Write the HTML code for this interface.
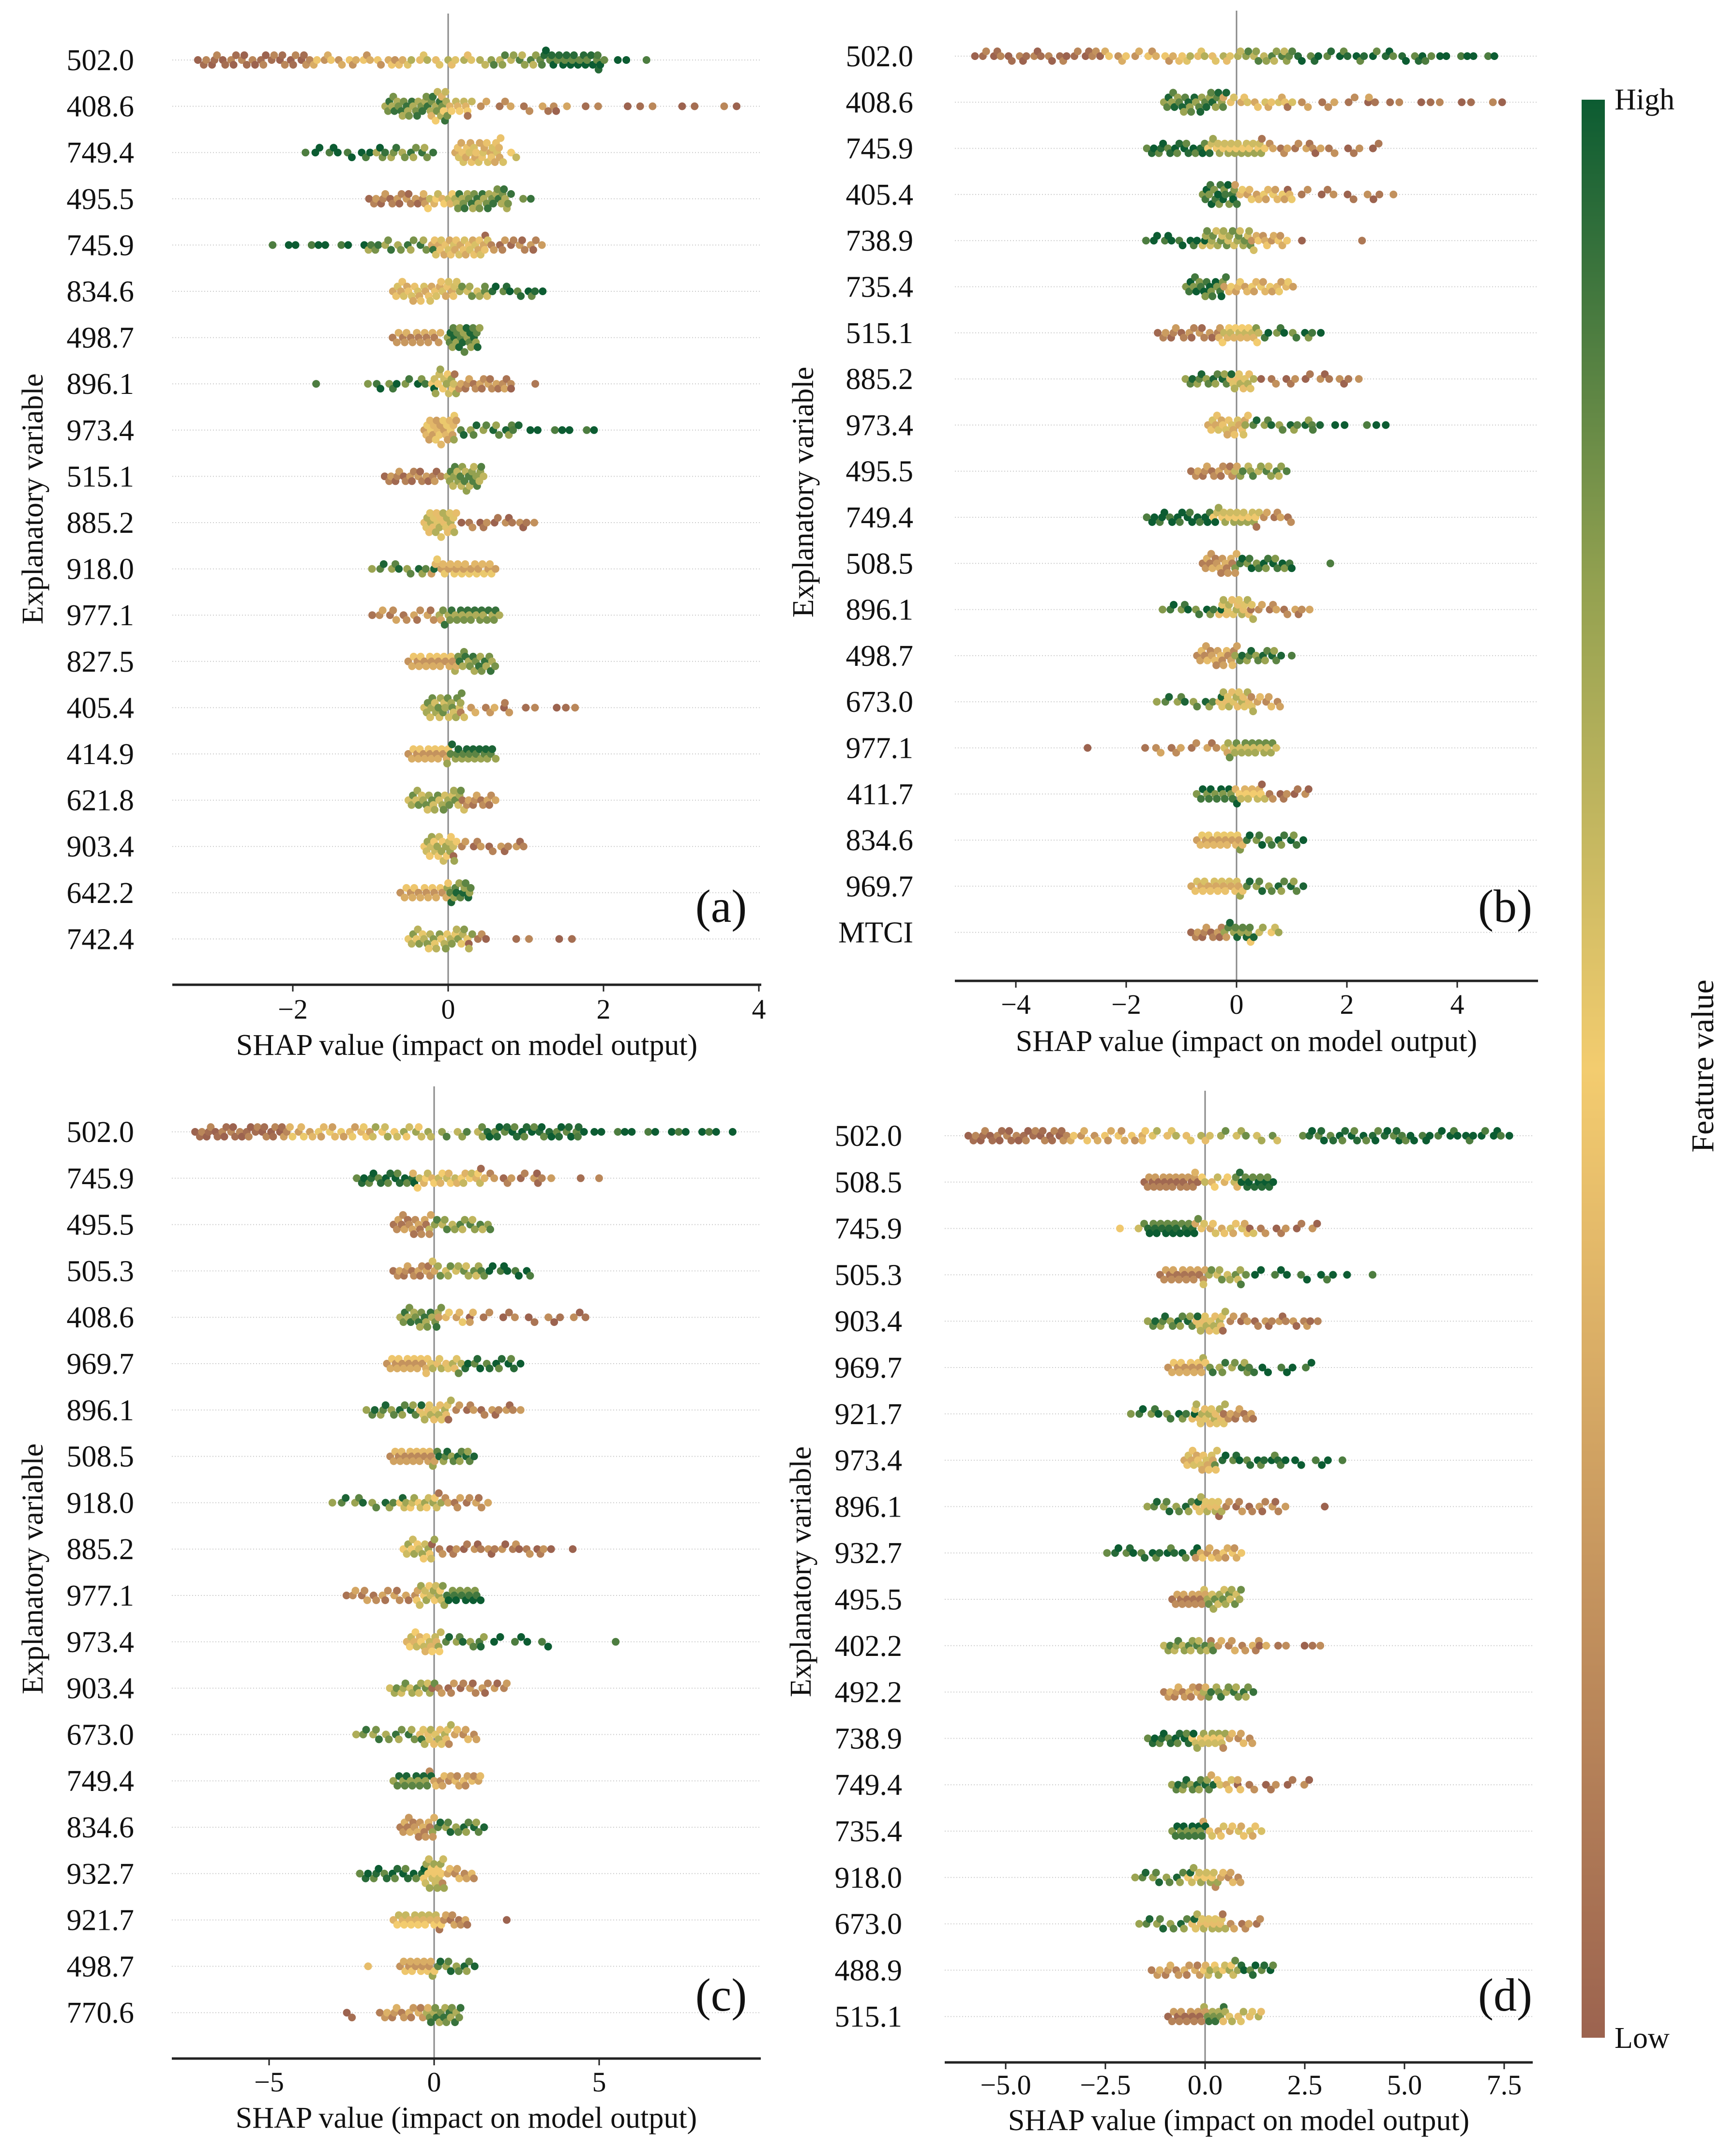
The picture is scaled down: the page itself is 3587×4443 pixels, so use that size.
<!DOCTYPE html>
<html><head><meta charset="utf-8"><style>
html,body{margin:0;padding:0;background:#fff}
svg{display:block}
text{font-family:"Liberation Serif",serif;fill:#111}
</style></head><body>
<svg id="fig" width="3587" height="4443" viewBox="0 0 3587 4443" xmlns="http://www.w3.org/2000/svg">
<defs>
<linearGradient id="cbg" x1="0" y1="0" x2="0" y2="1">
<stop offset="0" stop-color="#0c5c32"/>
<stop offset="0.25" stop-color="#93a150"/>
<stop offset="0.5" stop-color="#f3cc6f"/>
<stop offset="1" stop-color="#9c634f"/>
</linearGradient>
</defs>
<g id="panels"></g>
<rect x="3268" y="206" width="48" height="4005" fill="url(#cbg)"/>
<text x="3336" y="226" font-size="62">High</text>
<text x="3336" y="4232" font-size="62">Low</text>
<text transform="translate(3540,2203) rotate(-90)" text-anchor="middle" font-size="66">Feature value</text>
</svg>
<script>
// ---------- data ----------
const labelsA=["502.0","408.6","749.4","495.5","745.9","834.6","498.7","896.1","973.4","515.1","885.2","918.0","977.1","827.5","405.4","414.9","621.8","903.4","642.2","742.4"];
const segsA=[
[[-3.2,-1.8,30,0.05],[-1.8,-0.6,20,0.35],[-0.6,0.4,15,0.55],[0.5,1.2,15,0.75],[1.2,2.0,25,0.95],[2.0,2.5,4,1]],
[[-0.8,0.0,35,0.8],[-0.2,0.3,15,0.5],[0.3,1.5,12,0.2],[1.5,3.7,10,0.05]],
[[-1.8,-0.9,12,1],[-0.9,-0.2,15,0.8],[0.1,0.7,30,0.45],[0.7,0.9,3,0.5]],
[[-1.0,-0.3,18,0.15],[-0.3,0.1,12,0.5],[0.1,0.8,30,0.8],[0.8,1.1,3,0.8]],
[[-2.2,-1.0,10,1],[-1.0,-0.2,15,0.8],[-0.2,0.5,30,0.45],[0.5,1.2,15,0.15]],
[[-0.7,0.1,30,0.45],[0.1,0.5,10,0.7],[0.5,1.2,12,0.95]],
[[-0.7,-0.1,18,0.25],[0,0.4,25,0.85]],
[[-1.7,-1.6,1,1],[-1.0,-0.2,12,0.9],[-0.2,0.1,15,0.6],[0.1,0.8,20,0.2],[0.9,1.1,2,0.1]],
[[-0.3,0.1,25,0.4],[0.1,0.9,15,0.85],[0.9,1.9,8,1]],
[[-0.8,-0.1,20,0.15],[0,0.45,25,0.75]],
[[-0.3,0.1,25,0.55],[0.2,1.1,15,0.1]],
[[-0.95,-0.2,12,0.85],[-0.2,0.6,25,0.4]],
[[-0.95,-0.1,15,0.2],[-0.1,0.65,25,0.8]],
[[-0.5,0.1,20,0.35],[0.1,0.6,20,0.8]],
[[-0.3,0.2,25,0.7],[0.2,0.8,8,0.25],[0.8,1.7,6,0.05]],
[[-0.5,0.0,18,0.35],[0.0,0.6,22,0.85]],
[[-0.5,0.2,28,0.7],[0.2,0.6,12,0.2]],
[[-0.3,0.1,22,0.6],[0.1,1.0,14,0.15]],
[[-0.6,0.0,18,0.35],[0.0,0.3,14,0.85]],
[[-0.5,0.3,30,0.65],[0.3,0.45,3,0.1],[0.6,1.6,5,0.05]]];
const ticksA=[-2,0,2,4];
const tickLabelsA=["\u22122","0","2","4"];

const labelsB=["502.0","408.6","745.9","405.4","738.9","735.4","515.1","885.2","973.4","495.5","749.4","508.5","896.1","498.7","673.0","977.1","411.7","834.6","969.7","MTCI"];
const segsB=[
[[-4.7,-2.5,25,0.05],[-2.5,-1.0,15,0.35],[-1.0,0.0,12,0.55],[0.1,1.0,15,0.75],[1.0,3.5,25,0.95],[3.5,4.7,8,1]],
[[-1.3,-0.2,30,0.85],[-0.2,1.0,15,0.45],[1.0,2.5,10,0.2],[2.5,4.8,10,0.05]],
[[-1.6,-0.5,20,0.95],[-0.5,0.5,25,0.6],[0.5,1.5,12,0.2],[1.5,2.6,8,0.1]],
[[-0.6,0.0,20,0.9],[0.0,1.0,18,0.4],[1.0,2.8,12,0.1]],
[[-1.6,-0.6,12,1],[-0.6,0.3,25,0.7],[0.3,0.9,12,0.35],[1.5,2.2,2,0.1]],
[[-0.9,-0.2,20,0.9],[-0.2,1.0,22,0.4]],
[[-1.4,-0.3,18,0.15],[-0.3,0.4,18,0.5],[0.4,1.5,12,0.9]],
[[-0.9,-0.1,15,0.85],[-0.1,0.3,12,0.55],[0.5,2.2,15,0.1]],
[[-0.5,0.2,20,0.45],[0.2,1.5,15,0.85],[1.5,2.8,6,1]],
[[-0.8,0.0,15,0.2],[0.0,0.9,15,0.75]],
[[-1.6,-0.4,20,1],[-0.4,0.4,20,0.6],[0.4,1.0,8,0.2]],
[[-0.6,0.0,18,0.25],[0.0,1.0,18,0.9],[1.7,1.8,1,1]],
[[-1.3,-0.3,12,0.9],[-0.3,0.3,18,0.55],[0.3,1.3,12,0.2]],
[[-0.7,0.0,20,0.3],[0.0,0.8,15,0.85],[1.0,1.1,1,1]],
[[-1.4,-0.3,12,0.85],[-0.3,0.3,18,0.55],[0.3,0.8,8,0.3]],
[[-2.7,-2.7,1,0.05],[-1.6,-0.2,12,0.2],[-0.2,0.7,22,0.7]],
[[-0.7,0.0,15,0.9],[0.0,0.5,12,0.5],[0.5,1.3,10,0.1]],
[[-0.7,0.1,20,0.4],[0.1,1.2,15,0.9]],
[[-0.8,0.1,20,0.45],[0.1,1.2,15,0.85]],
[[-0.8,-0.2,12,0.15],[-0.2,0.3,12,0.85],[0.3,0.8,6,0.6]]];
const ticksB=[-4,-2,0,2,4];
const tickLabelsB=["\u22124","\u22122","0","2","4"];

const labelsC=["502.0","745.9","495.5","505.3","408.6","969.7","896.1","508.5","918.0","885.2","977.1","973.4","903.4","673.0","749.4","834.6","932.7","921.7","498.7","770.6"];
const segsC=[
[[-7.2,-4.5,30,0.05],[-4.5,-2.0,22,0.4],[-2.0,-0.2,15,0.6],[0,1.5,8,0.75],[1.5,4.5,30,0.95],[4.5,9.0,15,1]],
[[-2.3,-0.6,18,0.95],[-0.6,1.5,25,0.5],[1.5,3.5,12,0.15],[3.5,5.2,3,0.05]],
[[-1.2,-0.1,18,0.2],[-0.1,1.7,18,0.75]],
[[-1.2,0.0,15,0.2],[0.0,1.5,15,0.7],[1.5,2.9,10,1]],
[[-1.0,0.2,20,0.8],[0.2,1.2,8,0.4],[1.2,4.7,14,0.08]],
[[-1.4,-0.2,18,0.35],[-0.2,0.8,12,0.55],[0.8,2.6,15,0.95]],
[[-2.0,-0.4,15,0.85],[-0.4,0.5,15,0.55],[0.5,2.6,15,0.15]],
[[-1.3,0.0,20,0.3],[0.0,1.2,15,0.85]],
[[-3.0,-1.0,12,0.85],[-1.0,0.2,15,0.6],[0.2,1.6,12,0.2]],
[[-0.9,0.0,15,0.6],[0.0,3.5,25,0.12],[4.2,4.3,1,0.05]],
[[-2.6,-0.5,18,0.2],[-0.5,0.3,15,0.6],[0.3,1.4,15,0.9]],
[[-0.8,0.2,18,0.5],[0.2,1.5,10,0.85],[1.5,3.5,8,1],[5.5,5.6,1,1]],
[[-1.3,0.0,15,0.7],[0.0,2.2,18,0.15]],
[[-2.3,-0.4,15,0.8],[-0.4,0.5,15,0.55],[0.5,1.3,8,0.3]],
[[-1.2,-0.1,15,0.85],[-0.1,1.4,18,0.3]],
[[-1.0,0.0,18,0.25],[0.0,1.5,15,0.85]],
[[-2.2,-0.3,18,0.95],[-0.3,0.3,18,0.6],[0.3,1.2,10,0.3]],
[[-1.2,0.2,20,0.5],[0.2,1.0,10,0.2],[2.2,2.3,1,0.1]],
[[-2.0,-2.0,1,0.55],[-1.0,0.0,15,0.35],[0.0,1.2,12,0.85]],
[[-2.6,-2.5,2,0.05],[-1.6,-0.2,15,0.25],[-0.2,0.8,18,0.8]]];
const ticksC=[-5,0,5];
const tickLabelsC=["\u22125","0","5"];

const labelsD=["502.0","508.5","745.9","505.3","903.4","969.7","921.7","973.4","896.1","932.7","495.5","402.2","492.2","738.9","749.4","735.4","918.0","673.0","488.9","515.1"];
const segsD=[
[[-5.9,-3.5,30,0.05],[-3.5,-1.5,18,0.35],[-1.5,0.0,10,0.55],[0.2,1.8,10,0.7],[2.5,5.0,25,0.95],[5.0,7.6,20,1]],
[[-1.5,-0.2,25,0.15],[-0.2,0.8,10,0.5],[0.8,1.7,15,0.95]],
[[-2.0,-1.7,2,0.6],[-1.5,-0.2,22,0.95],[-0.2,1.2,15,0.45],[1.2,2.8,10,0.12]],
[[-1.1,0.0,18,0.2],[0.0,1.0,12,0.7],[1.0,3.5,12,1],[4.2,4.3,1,1]],
[[-1.4,-0.2,15,0.85],[-0.2,0.5,15,0.55],[0.5,2.8,20,0.15]],
[[-0.9,0.0,15,0.35],[0.0,1.2,12,0.8],[1.2,2.7,8,1]],
[[-1.8,-0.3,12,0.9],[-0.3,0.5,18,0.55],[0.5,1.2,10,0.2]],
[[-0.5,0.3,18,0.45],[0.3,2.0,15,0.95],[2.0,3.4,7,1]],
[[-1.4,-0.2,12,0.85],[-0.2,0.4,12,0.55],[0.4,2.0,15,0.15],[3.0,3.0,1,0.05]],
[[-2.4,-0.2,18,0.95],[-0.2,0.9,15,0.35]],
[[-0.8,0.0,15,0.2],[0.0,0.9,18,0.7]],
[[-1.0,0.2,18,0.75],[0.2,1.5,12,0.25],[1.5,3.0,6,0.08]],
[[-1.0,0.0,15,0.25],[0.0,1.2,15,0.8]],
[[-1.4,-0.3,15,0.95],[-0.3,0.5,15,0.6],[0.5,1.2,8,0.3]],
[[-0.8,0.2,15,0.85],[0.2,0.9,8,0.45],[0.9,2.6,10,0.1]],
[[-0.8,0.0,15,0.9],[0.0,1.4,15,0.45]],
[[-1.7,-0.4,12,0.85],[-0.4,0.3,12,0.6],[0.3,0.9,8,0.3]],
[[-1.6,-0.3,12,0.85],[-0.3,0.5,15,0.55],[0.5,1.4,8,0.2]],
[[-1.3,0.0,15,0.25],[0.0,0.8,12,0.6],[0.8,1.7,10,0.95]],
[[-0.9,0.0,15,0.15],[0.0,0.5,10,0.8],[0.5,1.4,10,0.55]]];
const ticksD=[-5,-2.5,0,2.5,5,7.5];
const tickLabelsD=["\u22125.0","\u22122.5","0.0","2.5","5.0","7.5"];

// ---------- layout ----------
const panels=[
{id:"a",labels:labelsA,segs:segsA,ticks:ticksA,tl:tickLabelsA,x0:926,ppu:160.5,ax1:356,ax2:1573,ay:2035,r0:124,rs:95.6,zt:28,lx:277,ytx:88,yty:1031,lt:[1490,1905],tly:2105,xly:2180},
{id:"b",labels:labelsB,segs:segsB,ticks:ticksB,tl:tickLabelsB,x0:2555,ppu:114,ax1:1973,ax2:3178,ay:2027,r0:116,rs:95.3,zt:22,lx:1887,ytx:1680,yty:1017,lt:[3110,1905],tly:2095,xly:2172},
{id:"c",labels:labelsC,segs:segsC,ticks:ticksC,tl:tickLabelsC,x0:897,ppu:68.2,ax1:355,ax2:1572,ay:4254,r0:2339,rs:95.8,zt:2245,lx:277,ytx:88,yty:3242,lt:[1490,4155],tly:4322,xly:4397},
{id:"d",labels:labelsD,segs:segsD,ticks:ticksD,tl:tickLabelsD,x0:2490,ppu:82.4,ax1:1952,ax2:3167,ay:4262,r0:2347,rs:95.8,zt:2254,lx:1864,ytx:1675,yty:3248,lt:[3110,4155],tly:4328,xly:4402}
];
const NS="http://www.w3.org/2000/svg";
function mk(tag,attrs,parent){const e=document.createElementNS(NS,tag);for(const k in attrs)e.setAttribute(k,attrs[k]);parent.appendChild(e);return e;}
const stops=[[0,[156,99,79]],[0.5,[243,204,111]],[0.75,[147,161,80]],[1,[12,92,50]]];
function col(c){c=Math.max(0,Math.min(1,c));for(let i=1;i<stops.length;i++){if(c<=stops[i][0]){const a=stops[i-1],b=stops[i];const t=(c-a[0])/(b[0]-a[0]);const m=a[1].map((v,j)=>Math.round(v+(b[1][j]-v)*t));return `rgb(${m[0]},${m[1]},${m[2]})`;}}return "rgb(12,92,50)";}
const root=document.getElementById('panels');
panels.forEach(p=>{
  const g=mk('g',{},root);
  
  
  const X=v=>p.x0+v*p.ppu;
  const Y=i=>p.r0+i*p.rs;
  p.labels.forEach((lab,i)=>{
    const gl=mk('line',{x1:p.ax1,x2:p.ax2,y1:Y(i),y2:Y(i),stroke:"#cccccc","stroke-width":2,"stroke-dasharray":"2 4"},g);
    
    
    const t=mk('text',{x:p.lx,y:Y(i)+21,"text-anchor":"end","font-size":62},g);
    
    
    t.textContent=lab;
  });
  const zl=mk('line',{x1:X(0),x2:X(0),y1:p.zt,y2:p.ay,stroke:"#888","stroke-width":3},g);
  
  
  const r=8, dx=2*r*0.8, dy=2*r*0.62;
  p.segs.forEach((row,i)=>{
    const pts=[];
    row.forEach(s=>{const [a,b,n,c]=s;const step=n>1?(b-a)/(n-1):0;for(let k=0;k<n;k++){const v=n>1?a+step*k:a;const sh=((k*0.618)%1-0.5)*step*p.ppu*0.9;const cc=c+((k%3)-1)*0.12;pts.push([X(v)+sh,cc]);}});
    pts.sort((u,w)=>u[0]-w[0]);
    const placed=[];
    pts.forEach((pt,k)=>{
      let off=null;
      for(let s=0;s<=10;s++){
        const cands=s===0?[0]:(k%2?[s*dy,-s*dy]:[-s*dy,s*dy]);
        for(const o of cands){
          let ok=true;
          for(let q=placed.length-1;q>=0;q--){const pp=placed[q];if(pt[0]-pp[0]>dx)break;if(Math.abs(pp[1]-o)<dy*0.99){ok=false;break;}}
          if(ok){off=o;break;}
        }
        if(off!==null)break;
      }
      if(off===null||Math.abs(off)>52){off=((k%9)-4)*dy*0.8;}
      placed.push([pt[0],off]);
      const d=mk('circle',{cx:pt[0].toFixed(1),cy:(Y(i)+off).toFixed(1),r:r,fill:col(pt[1])},g);
      
      
    });
  });
  const ax=mk('line',{x1:p.ax1,x2:p.ax2,y1:p.ay,y2:p.ay,stroke:"#222","stroke-width":5},g);
  
  
  p.ticks.forEach((v,k)=>{
    const tk=mk('line',{x1:X(v),x2:X(v),y1:p.ay,y2:p.ay+14,stroke:"#222","stroke-width":3},g);
    
    
    const tt=mk('text',{x:X(v),y:p.tly,"text-anchor":"middle","font-size":58},g);
    
    
    tt.textContent=p.tl[k];
  });
  const xl=mk('text',{x:(p.ax1+p.ax2)/2,y:p.xly,"text-anchor":"middle","font-size":62},g);
  
  
  xl.textContent="SHAP value (impact on model output)";
  const yt=mk('text',{transform:`translate(${p.ytx},${p.yty}) rotate(-90)`,"text-anchor":"middle","font-size":62},g);
  
  
  yt.textContent="Explanatory variable";
  const pl=mk('text',{x:p.lt[0],y:p.lt[1],"text-anchor":"middle","font-size":96},g);
  
  
  pl.textContent="("+p.id+")";
});
</script>
</body></html>
